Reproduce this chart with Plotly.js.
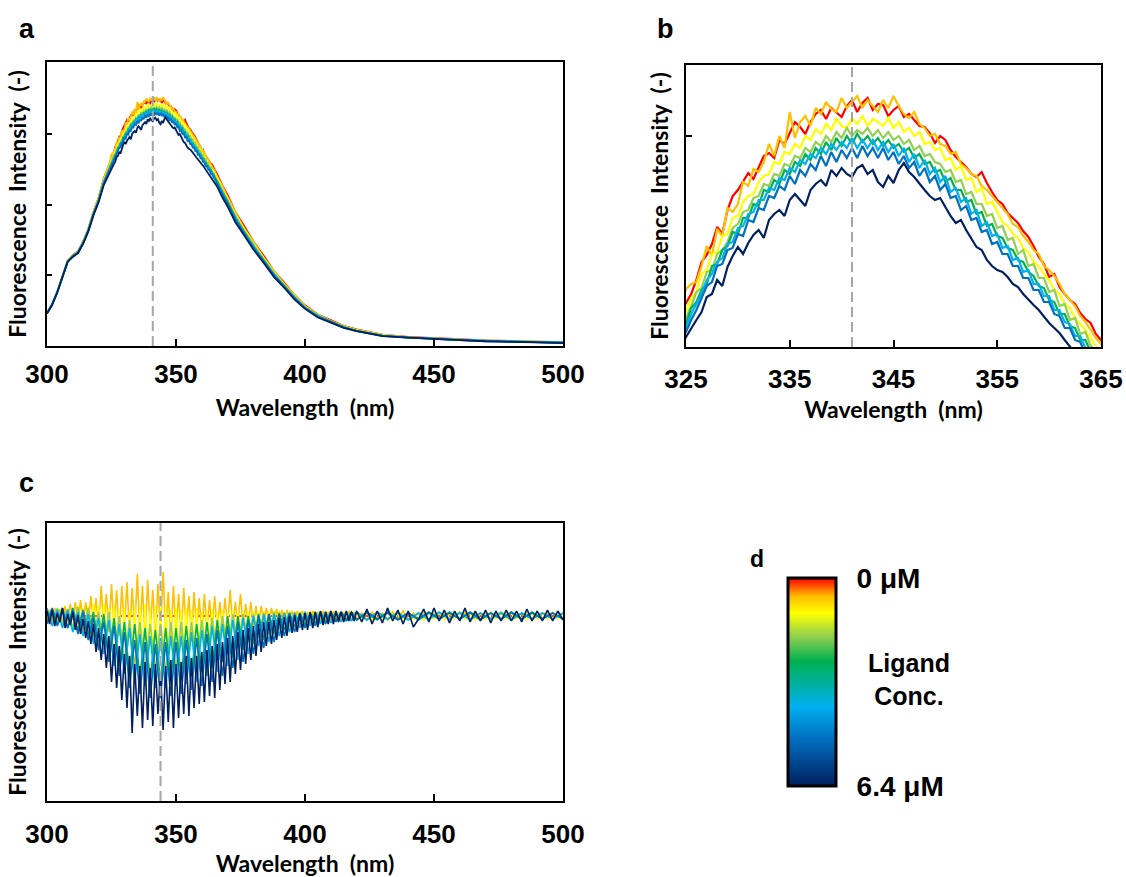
<!DOCTYPE html>
<html><head><meta charset="utf-8">
<script src="https://cdn.plot.ly/plotly-3.0.1.min.js"></script>
<style>html,body{margin:0;padding:0;background:#fff;}#chart{width:1126px;height:877px;}</style>
</head><body><div id="chart"></div>
<script>
// ---------- DATA ----------
// Emission wavelengths (nm) for panels a and b
const wavelength = [300,302,304,306,308,310,312,314,316,318,320,322,324,
325,325.5,326,326.5,327,327.5,328,328.5,329,329.5,330,330.5,331,331.5,332,332.5,333,333.5,334,334.5,335,335.5,336,336.5,337,337.5,338,338.5,339,339.5,340,340.5,341,341.5,342,342.5,343,343.5,344,344.5,345,345.5,346,346.5,347,347.5,348,348.5,349,349.5,350,350.5,351,351.5,352,352.5,353,353.5,354,354.5,355,355.5,356,356.5,357,357.5,358,358.5,359,359.5,360,360.5,361,361.5,362,362.5,363,363.5,364,364.5,365,
366,368,370,373,376,380,384,388,392,396,400,405,410,415,420,430,440,450,460,470,480,490,500];

// Fluorescence intensity (arb. units), one array per ligand concentration
const fl0 = [111,141,184,238,287,306,319,352,395,452,500,564,611,
631,640,654,672,679,690,707,700,724,738,744,752,761,755,767,778,781,776,794,790,801,812,807,800,812,820,824,815,826,821,817,828,834,822,831,836,824,830,829,818,824,828,817,820,814,808,807,801,791,798,794,784,777,772,767,760,757,762,751,742,734,730,721,716,711,703,697,688,677,670,657,660,647,640,634,630,621,615,611,600,594,
578,540,509,451,410,352,304,252,213,171,137,106,87,68,56,38,31,26,23,19,17,16,13];
const fl1 = [111,141,183,237,287,305,318,351,394,451,499,562,608,
645,650,652,668,688,678,705,698,726,722,730,752,748,765,762,772,790,778,798,786,822,796,812,818,808,826,820,832,825,822,836,826,832,838,826,834,828,822,834,826,838,828,820,816,822,810,806,798,800,790,788,780,782,770,766,760,758,748,744,738,732,726,720,710,707,698,692,684,680,668,664,658,650,640,634,628,618,612,604,596,590,
570,539,501,451,402,352,297,253,208,172,134,106,84,68,53,38,29,26,21,19,16,15,12];
const fl2 = [110,140,183,237,286,304,317,350,392,449,495,557,602,
622,636,642,660,664,680,682,698,700,716,718,732,738,740,752,758,760,772,770,782,780,790,786,798,794,805,800,810,804,815,808,806,816,810,818,808,815,812,808,816,806,812,802,806,798,802,790,792,784,786,774,776,764,768,754,756,742,746,730,732,722,712,708,700,696,686,682,672,668,660,654,644,640,630,626,616,610,604,596,588,582,
565,528,497,441,399,344,296,247,207,167,133,103,84,65,54,37,29,25,22,18,17,14,13];
const fl3 = [110,140,182,236,285,303,316,348,390,447,493,554,598,
616,628,642,646,662,664,680,684,692,706,710,722,724,736,738,750,748,760,758,770,768,778,776,786,782,792,788,798,792,802,796,806,798,804,800,806,798,804,796,802,794,798,790,794,784,788,778,780,772,770,762,764,752,754,740,742,730,730,718,720,706,708,694,696,680,684,668,670,656,656,642,644,628,630,614,616,600,602,588,584,574,
556,525,489,439,393,342,290,246,203,167,130,104,81,65,51,36,28,25,20,18,15,14,11];
const fl4 = [110,140,182,236,285,303,316,348,390,445,491,552,594,
610,626,632,644,650,668,670,684,688,702,700,716,716,730,728,744,742,754,750,764,760,772,768,780,774,786,780,792,784,796,788,798,790,800,792,798,790,796,788,794,786,790,782,786,776,780,770,772,762,764,752,756,744,744,732,734,720,722,708,710,698,696,686,684,674,672,662,658,648,646,634,632,620,620,608,606,594,594,582,578,568,
554,518,487,432,391,337,290,241,203,163,130,101,83,64,52,35,29,24,21,17,16,13,12];
const fl5 = [110,140,182,236,284,302,315,347,388,444,489,550,591,
606,620,630,640,654,660,672,676,690,692,706,708,720,722,734,734,746,744,756,754,766,762,774,770,780,776,786,780,790,784,792,786,796,786,794,786,794,784,792,782,790,778,786,772,780,766,774,760,766,752,758,742,746,732,736,720,724,708,712,698,700,686,688,674,676,662,664,650,650,638,638,624,624,612,610,598,598,586,584,572,566,
547,517,480,432,385,337,285,242,198,164,127,101,80,64,50,35,28,25,20,18,15,14,11];
const fl6 = [110,140,181,235,284,302,314,346,388,443,488,548,588,
602,614,624,636,648,652,668,670,684,686,700,698,714,712,726,724,738,736,748,744,758,750,764,758,770,764,778,768,782,772,784,776,786,776,788,778,786,776,786,774,782,770,778,766,772,758,766,752,758,744,750,736,738,724,728,714,716,702,704,690,692,680,680,668,668,656,656,644,644,632,632,620,618,606,606,594,592,580,580,568,564,
546,510,480,426,385,331,285,237,200,160,128,99,81,62,51,34,28,23,20,16,15,12,11];
const fl7 = [109,139,181,234,283,300,313,344,385,440,484,542,581,
597,606,614,622,637,640,654,648,667,678,687,680,691,699,704,696,714,720,724,718,734,740,734,728,744,750,754,748,764,758,766,760,757,766,769,760,764,752,747,758,751,764,771,762,757,750,744,738,734,736,727,718,711,714,704,695,687,684,674,668,664,662,657,650,647,640,634,629,624,617,611,606,601,594,587,580,574,568,562,556,549,
536,500,470,417,378,325,280,232,196,156,125,96,79,61,50,33,28,23,20,16,15,12,10];

// Difference spectra (panel c): wavelength grids
const wlDiffFine = [300,301,302,303,304,305,306,307,308,309,310,311,312,313,314,315,316,317,318,319,320,321,322,323,324,325,326,327,328,329,330,331,332,333,334,335,336,337,338,339,340,341,342,343,344,345,346,347,348,349,350,351,352,353,354,355,356,357,358,359,360,361,362,363,364,365,366,367,368,369,370,371,372,373,374,375,376,377,378,379,380,381,382,383,384,385,386,387,388,389,390,391,392,393,394,395,396,397,398,399,400,401,402,403,404,405,406,407,408,409,410,411,412,413,414,415,416,417,418,419,420,
422,424,426,428,430,432,434,436,438,440,442,444,446,448,450,452,454,456,458,460,462,464,466,468,470,472,474,476,478,480,482,484,486,488,490,492,494,496,498,500];
const wlDiffCoarse = [300,302,304,306,308,310,312,314,316,318,320,322,324,326,328,330,332,334,336,338,340,342,344,346,348,350,352,354,356,358,360,362,364,366,368,370,372,374,376,378,380,382,384,386,388,390,392,394,396,398,400,402,404,406,408,410,412,414,416,418,420,
424,428,432,436,440,444,448,452,456,460,464,468,472,476,480,484,488,492,496,500];
const wlDiffRef = [300,500];

const diff0 = [0,0];
const diff1 = [-4,6,-6,8,-5,7,-8,10,-6,12,-4,14,-8,16,-6,14,-10,20,-8,18,-14,30,-10,22,-16,32,-12,26,-20,30,-14,34,-22,28,-16,42,-18,30,-24,36,-14,26,-22,32,-18,44,-16,24,-26,30,-18,22,-20,28,-16,20,-22,24,-14,18,-18,22,-14,16,-12,20,-14,14,-12,18,-10,26,-12,14,-8,22,-10,12,-8,14,-10,10,-8,10,-6,8,-6,8,-5,7,-6,6,-5,6,-4,5,-5,5,-4,5,-4,4,-5,5,-4,4,-5,5,-4,4,-4,5,-4,4,-5,4,-4,5,-4,4,-3,
3,-4,4,-3,3,-4,4,-3,5,-4,3,-3,4,-4,3,-3,4,-4,3,-3,4,-3,3,-4,4,-3,3,-4,3,-3,4,-3,3,-3,4,-3,3,-3,4,-3];
const diff2 = [4,-6,5,-8,6,-5,7,-9,5,-10,8,-9,10,-12,8,-14,10,-16,12,-20,10,-22,12,-26,8,-30,10,-32,6,-36,8,-38,6,-40,10,-42,8,-40,12,-44,6,-40,10,-42,8,-44,10,-40,6,-38,8,-40,6,-36,8,-36,6,-34,8,-32,4,-32,6,-28,6,-28,4,-24,6,-24,4,-20,6,-20,4,-16,5,-15,4,-14,5,-12,4,-11,5,-10,4,-9,5,-8,5,-8,4,-7,5,-6,4,-6,5,-5,4,-5,5,-4,4,-5,4,-4,5,-4,4,-4,5,-4,4,-3,4,-4,3,-4,4,
-3,4,-4,3,-3,4,-4,3,-3,4,-3,3,-4,4,-3,3,-4,3,-3,4,-3,3,-4,3,-3,4,-3,3,-3,4,-3,3,-4,3,-3,3,-3,4,-3,3];
const diff3 = [6,-6,8,-9,7,-12,9,-16,8,-22,4,-32,4,-40,0,-46,-4,-50,-6,-54,-8,-54,-8,-56,-6,-54,-6,-50,-6,-48,-4,-46,-2,-42,0,-38,2,-32,2,-26,2,-22,3,-18,4,-14,3,-11,4,-9,4,-7,4,-6,4,-5,4,-5,4,-4,4,
-4,3,-4,4,-3,3,-4,3,-3,4,-3,3,-3,4,-3,3,-3,3,-3,3];
const diff4 = [-6,7,-9,8,-12,8,-15,6,-20,4,-30,2,-40,-2,-50,-6,-58,-8,-62,-12,-64,-14,-66,-12,-64,-12,-62,-10,-60,-8,-56,-6,-52,-4,-46,0,-42,0,-34,0,-28,2,-24,2,-18,3,-14,3,-11,3,-9,3,-7,4,-6,4,-5,4,-4,4,-4,
3,-4,4,-3,3,-4,3,-3,4,-3,3,-4,3,-3,3,-3,4,-3,3,-3];
const diff5 = [8,-10,6,-12,6,-16,4,-20,2,-28,-2,-38,-4,-50,-8,-58,-12,-66,-18,-70,-20,-72,-22,-72,-20,-70,-20,-68,-16,-66,-14,-60,-10,-56,-8,-50,-4,-44,-2,-38,0,-30,2,-26,2,-20,3,-16,3,-12,4,-10,4,-8,4,-7,4,-6,4,-5,4,
-4,4,-3,3,-4,3,-3,4,-3,3,-4,3,-3,3,-4,3,-3,3,-3,3];
const diff6 = [-8,8,-10,7,-12,6,-18,4,-24,-2,-34,-6,-46,-10,-60,-16,-72,-24,-78,-26,-82,-28,-82,-26,-80,-26,-78,-24,-74,-22,-70,-18,-66,-14,-60,-10,-52,-6,-46,-4,-38,0,-32,2,-26,2,-20,3,-16,3,-12,3,-10,4,-8,4,-6,4,-5,4,-4,
4,-3,3,-4,3,-3,4,-3,3,-3,4,-3,3,-3,4,-3,3,-3,3,-3];
const diff7 = [5,-8,6,-10,3,-6,8,-12,2,-9,4,-14,1,-18,-3,-22,-5,-28,-8,-36,-12,-44,-18,-52,-20,-66,-28,-72,-30,-84,-38,-92,-40,-117,-48,-100,-50,-112,-46,-104,-52,-110,-48,-98,-56,-114,-50,-106,-44,-112,-48,-102,-46,-98,-40,-100,-42,-92,-40,-88,-36,-86,-34,-80,-30,-82,-28,-74,-26,-68,-22,-66,-20,-58,-16,-54,-14,-48,-12,-44,-10,-40,-8,-36,-6,-30,-6,-28,-4,-24,-2,-22,-1,-20,0,-17,1,-16,2,-14,3,-14,4,-12,4,-11,5,-9,4,-8,5,-8,5,-6,4,-6,5,-5,4,-5,5,
-6,7,-8,5,-7,8,-5,6,-8,5,-11,-3,7,-6,8,-5,6,-7,5,-5,8,-6,5,-5,6,-7,5,-5,6,-5,5,-6,7,-5,5,-5,6,-5,5,-4];

const concLabels = ['0 μM','Conc. 2','Conc. 3','Conc. 4','Conc. 5','Conc. 6','Conc. 7','6.4 μM'];
const ligandConc = [0, 6.4];
const ligandTickText = ['0 μM', '6.4 μM'];
const xTicksWide = [300,350,400,450,500];
const xTicksZoom = [325,335,345,355,365];
const peakWl = 341;
const diffPeakWl = 344;

// ---------- STYLE ----------
const FONT = 'Liberation Sans, Arial, Helvetica, sans-serif';
const TICKFONT = 'Liberation Sans Narrow, Arial Narrow, Liberation Sans, Arial, sans-serif';
const TITLEFONT = 'Lato, Liberation Sans, Arial, sans-serif';
const colors = ['#FF0000','#FFC000','#FFFF00','#92D050','#00B050','#00B0F0','#0070C0','#002060'];
const spectra = [fl0,fl1,fl2,fl3,fl4,fl5,fl6,fl7];
const diffs = [diff0,diff1,diff2,diff3,diff4,diff5,diff6,diff7];
const diffWl = [wlDiffRef,wlDiffFine,wlDiffFine,wlDiffCoarse,wlDiffCoarse,wlDiffCoarse,wlDiffCoarse,wlDiffFine];

const traces = [];
spectra.forEach((s,i)=>traces.push({type:'scatter',mode:'lines',x:wavelength,y:s,xaxis:'x',yaxis:'y',
  name:concLabels[i],line:{color:colors[i],width:1.8},showlegend:false,hoverinfo:'skip'}));
spectra.forEach((s,i)=>traces.push({type:'scatter',mode:'lines',x:wavelength,y:s,xaxis:'x2',yaxis:'y2',
  name:concLabels[i],line:{color:colors[i],width:2.2},showlegend:false,hoverinfo:'skip'}));
diffs.forEach((s,i)=>traces.push({type:'scatter',mode:'lines',x:diffWl[i],y:s,xaxis:'x3',yaxis:'y3',
  name:concLabels[i],line:{color:colors[i],width:1.6,dash:i===0?'dot':'solid'},showlegend:false,hoverinfo:'skip'}));
traces.push({type:'scatter',mode:'markers',x:ligandConc,y:ligandConc,xaxis:'x4',yaxis:'y4',hoverinfo:'skip',showlegend:false,
  marker:{size:1,opacity:0,color:ligandConc.map(c=>-c),cmin:-6.4,cmax:0,
    colorscale:[[0,'#002060'],[0.23,'#0070C0'],[0.38,'#00B0F0'],[0.6,'#00B050'],[0.72,'#92D050'],[0.83,'#FFFF00'],[0.91,'#FFC000'],[1,'#FF0000']],
    showscale:true,
    colorbar:{x:788/1126,xanchor:'left',xpad:0,y:1-682/877,yanchor:'middle',ypad:0,
      len:208,lenmode:'pixels',thickness:48,thicknessmode:'pixels',
      outlinewidth:3,outlinecolor:'#000',borderwidth:0,
      tickvals:ligandConc.map(c=>-c),ticktext:ligandTickText,
      ticks:'outside',ticklen:14,tickcolor:'rgba(0,0,0,0)',
      tickfont:{family:FONT,size:28,color:'#000',weight:'bold'}}}});

const TF = {family:TICKFONT,size:26,color:'#000',weight:'bold'};
const TTF = {family:TITLEFONT,size:23,color:'#000',weight:'bold'};
function frame(o){return Object.assign({showline:true,linewidth:2,linecolor:'#000',mirror:true,showgrid:false,zeroline:false,fixedrange:true},o);}
const xTitle = 'Wavelength\u00a0\u00a0(nm)';
const yTitle = 'Fluorescence\u00a0\u00a0Intensity\u00a0\u00a0(-)';

const layout = {
  width:1126,height:877,margin:{l:0,r:0,t:0,b:0},paper_bgcolor:'#fff',plot_bgcolor:'#fff',showlegend:false,
  font:{family:FONT,color:'#000'},
  xaxis:frame({domain:[47/1126,563/1126],anchor:'y',range:[300,500],tickvals:xTicksWide,ticks:'inside',ticklen:7,tickwidth:2,tickcolor:'#000',
    tickfont:TF,ticklabelstandoff:4,title:{text:xTitle,font:TTF,standoff:12}}),
  yaxis:frame({domain:[1-346/877,1-62/877],anchor:'x',range:[0,956.5],tickvals:[238.1,476.2,714.3],ticks:'inside',ticklen:5,tickwidth:2,tickcolor:'#000',
    showticklabels:false,title:{text:yTitle,font:TTF,standoff:12}}),
  xaxis2:frame({domain:[686/1126,1101/1126],anchor:'y2',range:[325,365],tickvals:xTicksZoom,ticks:'inside',ticklen:7,tickwidth:2,tickcolor:'#000',
    tickfont:TF,ticklabelstandoff:8,title:{text:xTitle,font:TTF,standoff:9}}),
  yaxis2:frame({domain:[1-347/877,1-65/877],anchor:'x2',range:[587,869],tickvals:[798],ticks:'inside',ticklen:6,tickwidth:2,tickcolor:'#000',
    showticklabels:false,title:{text:yTitle,font:TTF,standoff:9}}),
  xaxis3:frame({domain:[47/1126,563/1126],anchor:'y3',range:[300,500],tickvals:xTicksWide,ticks:'inside',ticklen:7,tickwidth:2,tickcolor:'#000',
    tickfont:TF,ticklabelstandoff:9,title:{text:xTitle,font:TTF,standoff:7}}),
  yaxis3:frame({domain:[1-801/877,1-523/877],anchor:'x3',range:[-185,93],ticks:'',
    showticklabels:false,title:{text:yTitle,font:TTF,standoff:12}}),
  xaxis4:{domain:[0.7,0.71],anchor:'y4',visible:false,fixedrange:true},
  yaxis4:{domain:[0.2,0.21],anchor:'x4',visible:false,fixedrange:true},
  shapes:[
    {type:'line',xref:'x',yref:'y domain',x0:peakWl,x1:peakWl,y0:0,y1:1,layer:'above',line:{color:'#A6A6A6',width:2,dash:'10px,5px'}},
    {type:'line',xref:'x2',yref:'y2 domain',x0:peakWl,x1:peakWl,y0:0,y1:1,layer:'above',line:{color:'#A6A6A6',width:2,dash:'10px,5px'}},
    {type:'line',xref:'x3',yref:'y3 domain',x0:diffPeakWl,x1:diffPeakWl,y0:0,y1:1,layer:'above',line:{color:'#A6A6A6',width:2,dash:'10px,5px'}}
  ],
  annotations:[
    {text:'a',xref:'paper',yref:'paper',x:27/1126,y:1-29/877,xanchor:'center',yanchor:'middle',showarrow:false,font:{family:FONT,size:27,color:'#000',weight:'bold'}},
    {text:'b',xref:'paper',yref:'paper',x:665/1126,y:1-29/877,xanchor:'center',yanchor:'middle',showarrow:false,font:{family:FONT,size:27,color:'#000',weight:'bold'}},
    {text:'c',xref:'paper',yref:'paper',x:26/1126,y:1-483/877,xanchor:'center',yanchor:'middle',showarrow:false,font:{family:FONT,size:27,color:'#000',weight:'bold'}},
    {text:'d',xref:'paper',yref:'paper',x:757/1126,y:1-559/877,xanchor:'center',yanchor:'middle',showarrow:false,font:{family:FONT,size:23,color:'#000',weight:'bold'}},
    {text:'Ligand<br>Conc.',xref:'paper',yref:'paper',x:909/1126,y:1-679/877,xanchor:'center',yanchor:'middle',align:'center',showarrow:false,font:{family:FONT,size:25,color:'#000',weight:'bold'}}
  ]
};
Plotly.newPlot('chart',traces,layout,{staticPlot:true,displayModeBar:false});
</script></body></html>
